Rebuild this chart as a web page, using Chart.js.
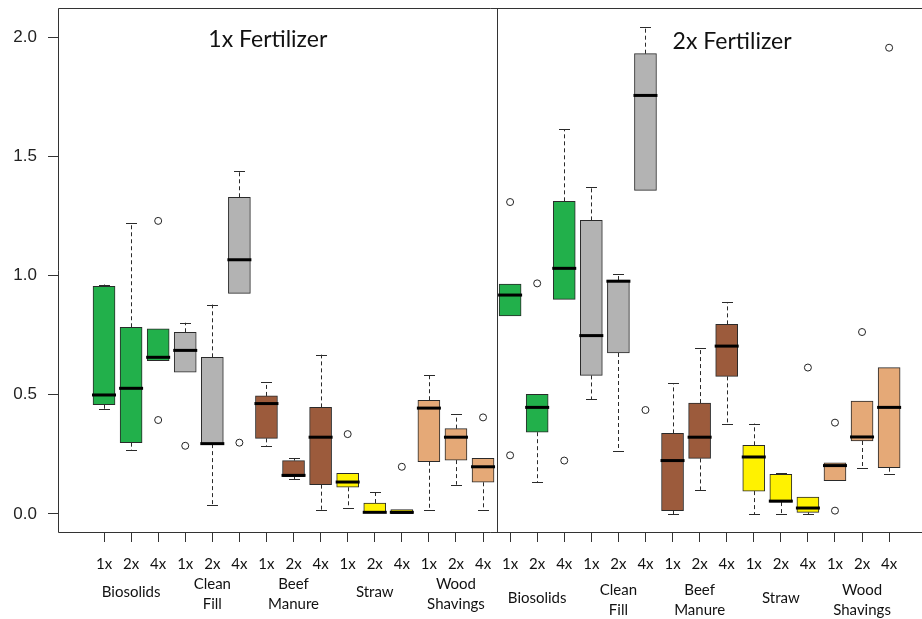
<!DOCTYPE html>
<html>
<head>
<meta charset="utf-8">
<script src="https://cdn.jsdelivr.net/npm/chart.js@4"></script>
<style>
  html, body { margin: 0; padding: 0; background: #fff; }
  #wrap { width: 922px; height: 619px; }
</style>
</head>
<body>
<div id="wrap"><canvas id="boxChart" width="922" height="619"></canvas></div>
<script>
// 30 boxes: 2 fertilizer levels x 5 materials x 3 rates
const positions = [1,2,3,4,5,6,7,8,9,10,11,12,13,14,15,16,17,18,19,20,21,22,23,24,25,26,27,28,29,30];
const rateLabels = ['1x', '2x', '4x'];
const materials = [['Biosolids'], ['Clean', 'Fill'], ['Beef', 'Manure'], ['Straw'], ['Wood', 'Shavings']];
const panelTitles = ['1x Fertilizer', '2x Fertilizer'];

const whiskerLow = [0.440, 0.267, 0.643, 0.595, 0.036, 0.925, 0.285, 0.145, 0.018, 0.025, 0.006, 0.001, 0.015, 0.123, 0.015,
                    0.830, 0.133, 0.900, 0.481, 0.263, 1.357, 0.000, 0.101, 0.379, 0.000, 0.000, 0.000, 0.140, 0.194, 0.166];
const q1Values   = [0.458, 0.299, 0.643, 0.595, 0.293, 0.925, 0.317, 0.157, 0.123, 0.112, 0.006, 0.001, 0.219, 0.226, 0.133,
                    0.830, 0.343, 0.900, 0.581, 0.675, 1.357, 0.014, 0.233, 0.577, 0.096, 0.050, 0.007, 0.140, 0.306, 0.194];
const medians    = [0.499, 0.527, 0.657, 0.686, 0.295, 1.066, 0.463, 0.162, 0.322, 0.134, 0.007, 0.007, 0.444, 0.322, 0.198,
                    0.918, 0.447, 1.030, 0.748, 0.976, 1.755, 0.224, 0.322, 0.704, 0.239, 0.054, 0.025, 0.203, 0.323, 0.447];
const q3Values   = [0.955, 0.783, 0.776, 0.762, 0.657, 1.328, 0.495, 0.224, 0.447, 0.171, 0.046, 0.018, 0.477, 0.358, 0.233,
                    0.964, 0.502, 1.311, 1.231, 0.981, 1.930, 0.338, 0.465, 0.795, 0.288, 0.166, 0.071, 0.215, 0.473, 0.614];
const whiskerHigh = [0.962, 1.221, 0.776, 0.802, 0.878, 1.437, 0.552, 0.233, 0.668, 0.171, 0.091, 0.018, 0.581, 0.418, 0.233,
                     0.964, 0.502, 1.613, 1.373, 1.005, 2.041, 0.548, 0.697, 0.889, 0.379, 0.171, 0.071, 0.215, 0.473, 0.614];

const outlierPos    = [3, 3, 4, 6, 10, 12, 15, 16, 16, 17, 18, 21, 27, 28, 28, 29, 30];
const outlierValues = [1.229, 0.394, 0.286, 0.299, 0.335, 0.198, 0.405, 1.308, 0.246, 0.967, 0.224, 0.436, 0.614, 0.383, 0.014, 0.763, 1.955];

const yTicks = [0, 0.5, 1.0, 1.5, 2.0];

const materialColors = ['#22B04B', '#B3B3B3', '#9C5B3C', '#FFF200', '#E5A977'];
const colorFor = p => materialColors[Math.floor(((p - 1) % 15) / 3)];

const boxExtras = {
    id: 'boxExtras',
    beforeDatasetsDraw(chart) {
        const { ctx, scales: { x, y } } = chart;
        ctx.save();
        ctx.strokeStyle = '#2a2a2a';
        ctx.lineWidth = 1;
        positions.forEach((p, i) => {
            const px = Math.round(x.getPixelForValue(p)) + 0.5;
            const ends = [[q1Values[i], whiskerLow[i]], [q3Values[i], whiskerHigh[i]]];
            ends.forEach(([from, to]) => {
                if (Math.abs(from - to) < 0.001) return;
                ctx.setLineDash([4, 3]);
                ctx.beginPath();
                ctx.moveTo(px, y.getPixelForValue(from));
                ctx.lineTo(px, y.getPixelForValue(to));
                ctx.stroke();
                ctx.setLineDash([]);
                const py = Math.round(y.getPixelForValue(to)) + 0.5;
                ctx.beginPath();
                ctx.moveTo(px - 5.5, py);
                ctx.lineTo(px + 5.5, py);
                ctx.stroke();
            });
        });
        ctx.restore();
    },
    afterDatasetsDraw(chart) {
        const { ctx, chartArea: a, scales: { x, y } } = chart;
        ctx.save();
        // medians
        ctx.strokeStyle = '#000';
        ctx.lineWidth = 3;
        positions.forEach((p, i) => {
            const px = x.getPixelForValue(p);
            const py = y.getPixelForValue(medians[i]);
            ctx.beginPath();
            ctx.moveTo(px - 12, py);
            ctx.lineTo(px + 12, py);
            ctx.stroke();
        });
        // frame (right side is cut off) and panel divider
        ctx.strokeStyle = '#333';
        ctx.lineWidth = 1;
        ctx.beginPath();
        ctx.moveTo(chart.width, a.top + 0.5);
        ctx.lineTo(a.left + 0.5, a.top + 0.5);
        ctx.lineTo(a.left + 0.5, a.bottom + 0.5);
        ctx.lineTo(chart.width, a.bottom + 0.5);
        const dx = Math.round(x.getPixelForValue(15.5)) + 0.5;
        ctx.moveTo(dx, a.top);
        ctx.lineTo(dx, a.bottom);
        ctx.stroke();
        // panel titles
        ctx.fillStyle = '#111';
        ctx.font = '23px Lato';
        ctx.textAlign = 'center';
        ctx.textBaseline = 'middle';
        ctx.fillText(panelTitles[0], x.getPixelForValue(7.05), y.getPixelForValue(1.99));
        ctx.fillText(panelTitles[1], x.getPixelForValue(24.2), y.getPixelForValue(1.98));
        // material names under the 2x ticks
        ctx.font = '15px Lato';
        for (let panel = 0; panel < 2; panel++) {
            const base = panel ? 595 : 589;
            materials.forEach((lines, m) => {
                const cx = x.getPixelForValue(panel * 15 + m * 3 + 2);
                lines.forEach((t, k) => {
                    const ty = lines.length === 1 ? base + 3 : base - 5 + k * 20;
                    ctx.fillText(t, cx, ty);
                });
            });
        }
        ctx.restore();
    }
};

new Chart(document.getElementById('boxChart'), {
    type: 'bar',
    data: {
        datasets: [{
            type: 'bar',
            data: positions.map((p, i) => ({ x: p, y: [q1Values[i], q3Values[i]] })),
            backgroundColor: positions.map(colorFor),
            borderColor: '#2a2a2a',
            borderWidth: 1,
            borderSkipped: false,
            barThickness: 22
        }, {
            type: 'scatter',
            data: outlierPos.map((p, i) => ({ x: p, y: outlierValues[i] })),
            pointRadius: 3.5,
            pointBorderWidth: 1,
            pointBorderColor: '#222',
            pointBackgroundColor: 'rgba(0,0,0,0)'
        }]
    },
    options: {
        responsive: false,
        animation: false,
        layout: { padding: { top: 8, right: 0, left: 0, bottom: 0 } },
        plugins: { legend: { display: false }, tooltip: { enabled: false } },
        scales: {
            x: {
                type: 'linear',
                offset: false,
                min: -0.70,
                max: 31.03,
                afterBuildTicks: axis => { axis.ticks = positions.map(v => ({ value: v })); },
                afterFit: axis => { axis.height = 87; axis.paddingLeft = 0; axis.paddingRight = 0; },
                border: { display: false },
                grid: { offset: false, drawOnChartArea: false, drawTicks: true, tickLength: 10, color: '#333' },
                ticks: {
                    autoSkip: false,
                    maxRotation: 0,
                    padding: 13,
                    color: '#111',
                    font: { family: 'Lato', size: 15 },
                    callback: (v, i) => rateLabels[i % 3]
                }
            },
            y: {
                min: -0.0755,
                max: 2.1216,
                afterBuildTicks: axis => { axis.ticks = yTicks.map(v => ({ value: v })); },
                afterFit: axis => { axis.width = 58; axis.paddingTop = 0; axis.paddingBottom = 0; },
                border: { display: false },
                grid: { drawOnChartArea: false, drawTicks: true, tickLength: 10, color: '#333' },
                ticks: {
                    padding: 11,
                    color: '#222',
                    font: { family: 'Liberation Sans', size: 17 },
                    callback: v => v.toFixed(1)
                }
            }
        }
    },
    plugins: [boxExtras]
});
</script>
</body>
</html>
